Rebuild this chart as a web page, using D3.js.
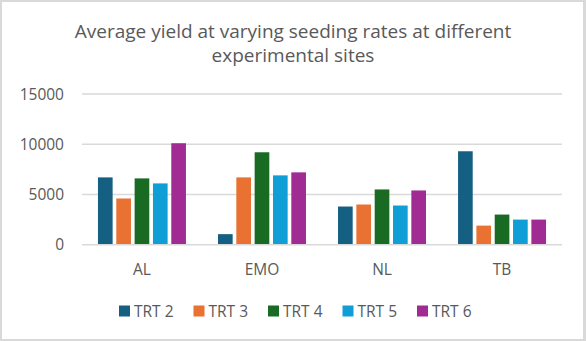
<!DOCTYPE html>
<html><head><meta charset="utf-8">
<script src="https://cdn.jsdelivr.net/npm/d3@7"></script>
<style>
html,body{margin:0;padding:0;background:#d9d9d9;}
svg{display:block;}
text{font-family:"Open Sans","Noto Sans",sans-serif;fill:#595959;}
</style></head>
<body><svg id="c" width="586" height="341"></svg>
<script>
const categories = ["AL","EMO","NL","TB"];
const seriesNames = ["TRT 2","TRT 3","TRT 4","TRT 5","TRT 6"];
const trt2 = [6700,1050,3800,9300];
const trt3 = [4600,6700,4000,1900];
const trt4 = [6600,9200,5500,3000];
const trt5 = [6100,6900,3900,2500];
const trt6 = [10100,7200,5400,2500];
const yTicks = [0,5000,10000,15000];
const colors = ["#156082","#E97132","#196B24","#0F9ED5","#A02B93"];
const titleLines = ["Average yield at varying seeding rates at different","experimental sites"];

(function(){
const series = [trt2,trt3,trt4,trt5,trt6];
const svg = d3.select("#c");
svg.append("rect").attr("x",2).attr("y",2).attr("width",581).attr("height",337).attr("fill","#fff");

const pl=82, pr=562, pt=94, pb=244.7;
const x0 = d3.scaleBand().domain(categories).range([pl,pr]).paddingInner(0.267).paddingOuter(0.133);
const x1 = d3.scaleBand().domain(seriesNames).range([0,x0.bandwidth()]).paddingInner(0.2);
const y = d3.scaleLinear().domain([0,15000]).range([pb,pt]);

svg.append("g").selectAll("line").data(yTicks).join("line")
  .attr("x1",pl).attr("x2",pr).attr("y1",d=>y(d)).attr("y2",d=>y(d))
  .attr("stroke","#d9d9d9").attr("stroke-width",1.5);

svg.append("g").selectAll("text").data(yTicks).join("text")
  .attr("x",64).attr("y",d=>y(d)).attr("dy","0.36em").attr("text-anchor","end")
  .style("font-size","15.5px").text(d=>d);

const g = svg.append("g");
series.forEach((vals,si)=>{
  g.selectAll(null).data(vals).join("rect")
    .attr("x",(d,i)=>x0(categories[i])+x1(seriesNames[si]))
    .attr("width",x1.bandwidth())
    .attr("y",d=>y(d)).attr("height",d=>y(0)-y(d)-0.7)
    .attr("fill",colors[si]);
});

svg.append("g").selectAll("text").data(categories).join("text")
  .attr("x",d=>x0(d)+x0.bandwidth()/2).attr("y",275).attr("text-anchor","middle")
  .style("font-size","15.5px").text(d=>d);

svg.append("g").selectAll("text").data(titleLines).join("text")
  .attr("x",293).attr("y",(d,i)=>37.5+i*24.5).attr("text-anchor","middle")
  .style("font-size","19px").text(d=>d);

const lg = svg.append("g");
seriesNames.forEach((n,i)=>{
  const lx = 119 + i*74.5;
  lg.append("rect").attr("x",lx).attr("y",305.5).attr("width",11).attr("height",11).attr("fill",colors[i]);
  lg.append("text").attr("x",lx+15).attr("y",316.5).style("font-size","15.5px").text(n);
});
})();
</script></body></html>
